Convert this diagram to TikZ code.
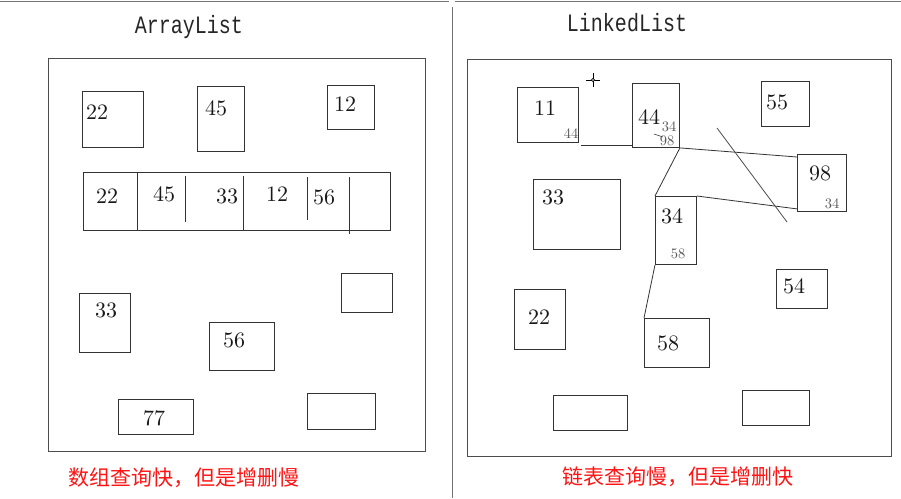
\documentclass[tikz,border=0pt]{standalone}
\usepackage{fontspec}
\newfontfamily\cjk{Noto Sans CJK SC}
\newfontfamily\monof{Liberation Mono}
\newcommand\bignum[1]{\scalebox{2.2}{\fontsize{10}{10}\selectfont #1}}
\newcommand\smallnum[1]{\scalebox{1.45}{\fontsize{10}{10}\selectfont #1}}
\begin{document}
\begin{tikzpicture}[x=1pt,y=-1pt,
  box/.style={draw=black!80, line width=0.9pt, inner sep=0pt, anchor=north west},
  outer/.style={draw=black!70, line width=1.1pt, inner sep=0pt, anchor=north west},
  num/.style={inner sep=0pt, text=black!90},
  small/.style={inner sep=0pt, text=black!65},
  title/.style={font=\monof\fontsize{20}{20}\selectfont, inner sep=0pt, anchor=base, text=black!85},
  note/.style={font=\cjk\fontsize{21}{21}\selectfont, inner sep=0pt, text={rgb,255:red,255;green,20;blue,20}},
  link/.style={draw=black!80, line width=0.8pt},
  frame/.style={draw=black!55, line width=1pt}]
\useasboundingbox (0,0) rectangle (901,498);
\fill[white] (0,0) rectangle (901,498);
% frame lines
\coordinate (tl) at (0,1); \coordinate (tm1) at (449,1);
\coordinate (tm2) at (455,1); \coordinate (tr) at (901,1);
\coordinate (vt) at (452,7); \coordinate (vb) at (452,498);
\draw[frame] (tl) -- (tm1);
\draw[frame] (tm2) -- (tr);
\draw[frame] (vt) -- (vb);
% titles
\node[title] (tA) at (189,33) {\scalebox{1}[1.25]{ArrayList}};
\node[title] (tB) at (627,31) {\scalebox{1}[1.25]{LinkedList}};
% ===== left =====
\node[outer, minimum width=377, minimum height=393] (Lout) at (48,58) {};
\node[box, minimum width=61, minimum height=56] (L22) at (82,91) {};
\node[num] (tL22) at (97,112) {\bignum{22}};
\node[box, minimum width=47, minimum height=65] (L45) at (197,86) {};
\node[num] (tL45) at (216,108) {\bignum{45}};
\node[box, minimum width=47, minimum height=44] (L12) at (327,85) {};
\node[num] (tL12) at (345,104) {\bignum{12}};
% array bar
\node[box, minimum width=307, minimum height=58] (bar) at (83,172) {};
\draw[link] (137,172) -- (137,230);
\draw[link] (185,176) -- (185,222);
\draw[link] (243,176) -- (243,230);
\draw[link] (307,177) -- (307,220);
\draw[link] (349,177) -- (349,234);
\node[num] (a1) at (107,196) {\bignum{22}};
\node[num] (a2) at (164,194) {\bignum{45}};
\node[num] (a3) at (227,196) {\bignum{33}};
\node[num] (a4) at (277,194) {\bignum{12}};
\node[num] (a5) at (324,197) {\bignum{56}};
\node[box, minimum width=51, minimum height=59] (L33) at (79,293) {};
\node[num] (tL33) at (106,310) {\bignum{33}};
\node[box, minimum width=51, minimum height=39] (LE1) at (341,273) {};
\node[box, minimum width=65, minimum height=48] (L56) at (209,322) {};
\node[num] (tL56) at (234,340) {\bignum{56}};
\node[box, minimum width=75, minimum height=35] (L77) at (118,399) {};
\node[num] (tL77) at (154,418) {\bignum{77}};
\node[box, minimum width=68, minimum height=36] (LE2) at (307,393) {};
\node[note] (nL) at (184,478) {数组查询快，但是增删慢};
% ===== right =====
\node[outer, minimum width=424, minimum height=397] (Rout) at (467,59) {};
\node[box, minimum width=61, minimum height=55] (R11) at (517,87) {};
\node[num] (tR11) at (545,108) {\bignum{11}};
\node[small] (sR11) at (571,134) {\smallnum{44}};
\node[box, minimum width=47, minimum height=64] (R44) at (632,83) {};
\node[num] (tR44) at (649,117) {\bignum{44}};
\node[small] (sR44a) at (669,126.5) {\smallnum{34}};
\node[small] (sR44b) at (667,140.5) {\smallnum{98}};
\node[box, minimum width=48, minimum height=45] (R55) at (761,81) {};
\node[num] (tR55) at (777,102) {\bignum{55}};
\node[box, minimum width=49, minimum height=57] (R98) at (797,154) {};
\node[num] (tR98) at (820,173) {\bignum{98}};
\node[small] (sR98) at (832,204) {\smallnum{34}};
\node[box, minimum width=87, minimum height=70] (R33) at (533,179) {};
\node[num] (tR33) at (553,197) {\bignum{33}};
\node[box, minimum width=41, minimum height=68] (R34) at (655,196) {};
\node[num] (tR34) at (672,216) {\bignum{34}};
\node[small] (sR34) at (678,254) {\smallnum{58}};
\node[box, minimum width=51, minimum height=39] (R54) at (776,269) {};
\node[num] (tR54) at (794,286) {\bignum{54}};
\node[box, minimum width=51, minimum height=60] (R22) at (514,289) {};
\node[num] (tR22) at (539,317) {\bignum{22}};
\node[box, minimum width=65, minimum height=49] (R58) at (644,318) {};
\node[num] (tR58) at (668,343) {\bignum{58}};
\node[box, minimum width=74, minimum height=35] (RE1) at (553,395) {};
\node[box, minimum width=67, minimum height=35] (RE2) at (742,390) {};
\node[note] (nR) at (678,477) {链表查询慢，但是增删快};
% links
\coordinate (c11) at (581,145);
\draw[link] (c11) -- (c11 -| R44.west);
\draw[link] (R44.south east) -- ([yshift=-3pt]R98.north west);
\draw[link] (R44.south east) -- (R34.north west);
\draw[link] (R34.north east) -- ([yshift=3pt]R98.south west);
\draw[link] (R34.south west) -- (R58.north west);
\coordinate (x1) at (717,128); \coordinate (x2) at (787,222);
\draw[link, draw=black!70] (x1) -- (x2);
\coordinate (s1) at (654,134); \coordinate (s2) at (663,137);
\draw[link, line width=0.6pt] (s1) -- (s2);
% cursor
\coordinate (cur) at (593,80);
\draw[line width=0.7pt] ([xshift=-7pt]cur) -- ([xshift=7pt]cur);
\draw[line width=0.7pt] ([yshift=-7pt]cur) -- ([yshift=7pt]cur);
\draw[line width=0.6pt, fill=white] (cur) circle (1.6);
\end{tikzpicture}
\end{document}
